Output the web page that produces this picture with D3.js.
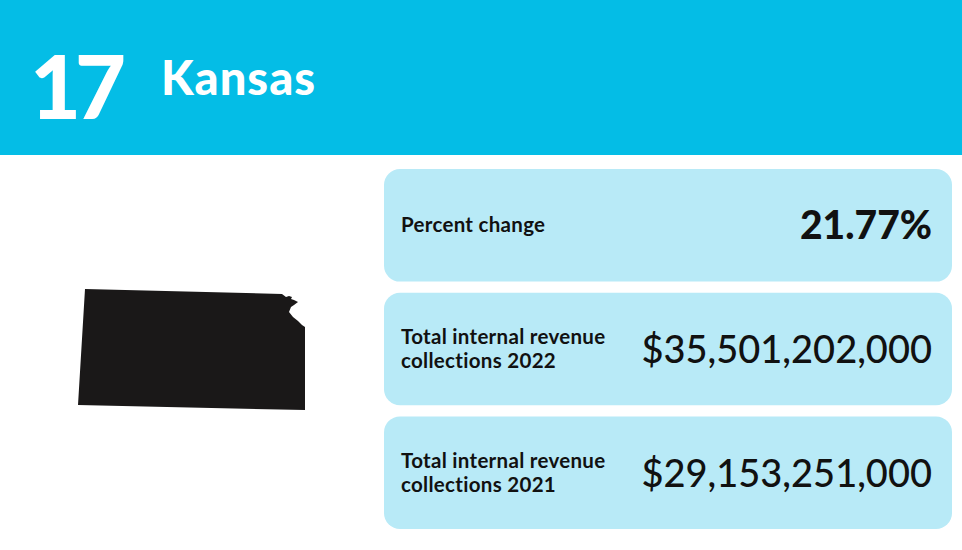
<!DOCTYPE html>
<html><head><meta charset="utf-8">
<script src="https://cdn.jsdelivr.net/npm/d3@7"></script>
<style>body{margin:0;background:#fff}</style>
</head><body><svg id="c" width="962" height="550"></svg>
<script>
const rank = "17";
const stateName = "Kansas";
const labels = [["Percent change"], ["Total internal revenue", "collections 2022"], ["Total internal revenue", "collections 2021"]];
const values = ["21.77%", "$35,501,202,000", "$29,153,251,000"];
// state outline, in map units
const outline = [[85,289],[282,294],[286,297],[289,296],[292,297],[291,299],[294,300],[298,302],[294,305],[291,307],[289,312],[293,317],[298,321],[302,325],[305,327],[305,410],[78,405]];

const svg = d3.select("#c");
const font = "Lato, 'Noto Sans', sans-serif";

svg.append("rect").attr("width", 962).attr("height", 155).attr("fill", "#04bde6");
svg.append("text").attr("x", 30).attr("y", 119).attr("font-family", font).attr("font-weight", 900)
  .attr("font-size", 88).attr("fill", "#fff").attr("letter-spacing", -6).text(rank);
svg.append("text").attr("x", 161).attr("y", 95).attr("font-family", font).attr("font-weight", 900)
  .attr("font-size", 47).attr("fill", "#fff").attr("letter-spacing", 1).text(stateName);

const sx = d3.scaleLinear().domain([0, 1]).range([0, 1]);
const sy = d3.scaleLinear().domain([0, 1]).range([0, 1]);
svg.append("path").attr("d", d3.line().x(d => sx(d[0])).y(d => sy(d[1]))(outline) + "Z").attr("fill", "#1a1818");

const y = d3.scaleBand().domain(d3.range(values.length)).range([169, 529]).paddingInner(0.09);
const g = svg.selectAll("g.card").data(values).join("g").attr("class", "card")
  .attr("transform", (d, i) => `translate(384,${y(i)})`);
g.append("rect").attr("width", 568).attr("height", y.bandwidth()).attr("rx", 16).attr("fill", "#b8eaf7");
g.append("text").attr("x", 17).attr("font-family", font).attr("font-weight", 700).attr("font-size", 20.5).attr("fill", "#111")
  .attr("letter-spacing", 0.3)
  .each(function(d, i) {
    const ls = labels[i];
    const t = d3.select(this);
    ls.forEach((l, j) => t.append("tspan").attr("x", 17)
      .attr("y", y.bandwidth() / 2 + 7 + (j - (ls.length - 1) / 2) * 24).text(l));
  });
g.append("text").attr("x", 548).attr("y", (d, i) => y.bandwidth() / 2 + 14)
  .attr("text-anchor", "end").attr("font-family", font).attr("font-weight", (d, i) => i === 0 ? 900 : 500)
  .attr("font-size", (d, i) => i === 0 ? 39 : 38).attr("letter-spacing", 0)
  .attr("fill", "#111").text(d => d);
</script></body></html>
